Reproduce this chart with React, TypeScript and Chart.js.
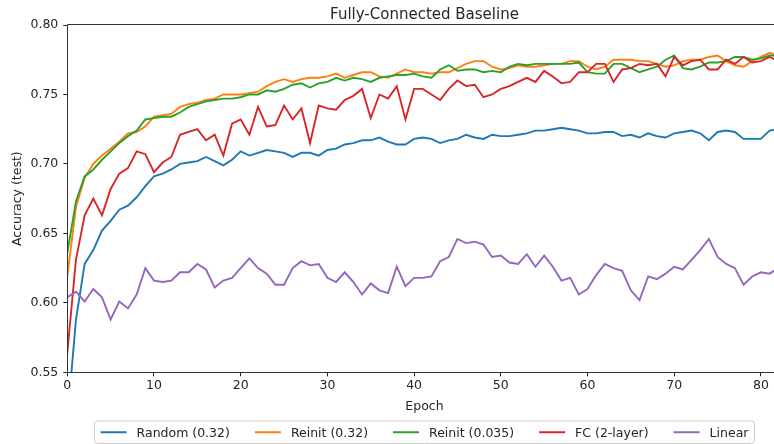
import React, { useEffect, useRef } from "react";
import { Chart, registerables } from "chart.js";

Chart.register(...registerables);

// ---- Data (epoch index = array position) ----
const seriesLabels = ["Random (0.32)", "Reinit (0.32)", "Reinit (0.035)", "FC (2-layer)", "Linear"];
const seriesColors = ["#1f77b4", "#ff7f0e", "#2ca02c", "#d62728", "#9467bd"];

const randomAcc = [
  0.515, 0.588, 0.628, 0.638, 0.652, 0.659, 0.667, 0.670, 0.676, 0.684, 0.691, 0.693, 0.696, 0.700, 0.701, 0.702, 0.705, 0.702, 0.699, 0.703, 0.709, 0.706,
  0.708, 0.710, 0.709, 0.708, 0.705, 0.708, 0.708, 0.706, 0.710, 0.711, 0.714, 0.715, 0.717, 0.717, 0.719, 0.716, 0.714, 0.714, 0.718, 0.719,
  0.718, 0.715, 0.717, 0.718, 0.721, 0.719, 0.718, 0.721, 0.720, 0.720, 0.721, 0.722, 0.724, 0.724, 0.725, 0.726, 0.725, 0.724, 0.722, 0.722, 0.723,
  0.723, 0.720, 0.721, 0.719, 0.722, 0.720, 0.719, 0.722, 0.723, 0.724, 0.722, 0.717, 0.723, 0.724, 0.723, 0.718, 0.718, 0.718, 0.724, 0.725,
];
const reinit032Acc = [
  0.619, 0.669, 0.690, 0.700, 0.706, 0.711, 0.716, 0.722, 0.723, 0.727, 0.734, 0.735, 0.736, 0.741, 0.743, 0.744, 0.746, 0.747, 0.750, 0.750, 0.750, 0.751,
  0.752, 0.756, 0.759, 0.761, 0.759, 0.761, 0.762, 0.762, 0.763, 0.765, 0.762, 0.764, 0.766, 0.766, 0.763, 0.762, 0.765, 0.768, 0.766, 0.766,
  0.765, 0.766, 0.766, 0.769, 0.772, 0.774, 0.774, 0.770, 0.768, 0.769, 0.771, 0.770, 0.770, 0.771, 0.772, 0.772, 0.774, 0.774, 0.770, 0.768, 0.770,
  0.775, 0.775, 0.775, 0.774, 0.774, 0.772, 0.770, 0.771, 0.774, 0.775, 0.775, 0.777, 0.778, 0.774, 0.771, 0.770, 0.774, 0.777, 0.780, 0.778,
];
const reinit0035Acc = [
  0.636, 0.673, 0.691, 0.696, 0.703, 0.709, 0.715, 0.720, 0.724, 0.732, 0.733, 0.734, 0.734, 0.737, 0.741, 0.743, 0.745, 0.746, 0.747, 0.747, 0.748, 0.750,
  0.750, 0.753, 0.752, 0.754, 0.757, 0.758, 0.755, 0.758, 0.759, 0.762, 0.760, 0.762, 0.761, 0.759, 0.762, 0.763, 0.764, 0.764, 0.765, 0.763,
  0.762, 0.768, 0.771, 0.767, 0.768, 0.768, 0.766, 0.767, 0.766, 0.770, 0.772, 0.771, 0.772, 0.772, 0.772, 0.772, 0.772, 0.773, 0.766, 0.765, 0.765,
  0.772, 0.772, 0.769, 0.766, 0.768, 0.770, 0.775, 0.778, 0.769, 0.768, 0.770, 0.773, 0.773, 0.774, 0.777, 0.777, 0.775, 0.776, 0.778, 0.778,
];
const fc2LayerAcc = [
  0.564, 0.631, 0.663, 0.675, 0.663, 0.682, 0.693, 0.697, 0.709, 0.707, 0.694, 0.701, 0.705, 0.721, 0.723, 0.725, 0.717, 0.721, 0.706, 0.729, 0.732, 0.721,
  0.741, 0.727, 0.728, 0.742, 0.732, 0.740, 0.715, 0.742, 0.740, 0.739, 0.746, 0.749, 0.754, 0.733, 0.750, 0.747, 0.756, 0.732, 0.754, 0.754,
  0.750, 0.746, 0.754, 0.760, 0.756, 0.757, 0.748, 0.750, 0.754, 0.756, 0.759, 0.762, 0.759, 0.767, 0.763, 0.758, 0.759, 0.766, 0.766, 0.772, 0.772,
  0.759, 0.768, 0.769, 0.772, 0.771, 0.772, 0.763, 0.777, 0.771, 0.774, 0.775, 0.768, 0.768, 0.775, 0.772, 0.777, 0.773, 0.774, 0.777, 0.774,
];
const linearAcc = [
  0.604, 0.608, 0.601, 0.610, 0.604, 0.588, 0.601, 0.596, 0.606, 0.625, 0.616, 0.615, 0.616, 0.622, 0.622, 0.628, 0.624, 0.611, 0.616, 0.618, 0.625, 0.632,
  0.625, 0.621, 0.613, 0.613, 0.625, 0.630, 0.627, 0.628, 0.618, 0.615, 0.622, 0.615, 0.606, 0.614, 0.609, 0.607, 0.626, 0.612, 0.618, 0.618,
  0.619, 0.630, 0.633, 0.646, 0.643, 0.644, 0.642, 0.633, 0.634, 0.629, 0.628, 0.635, 0.626, 0.634, 0.626, 0.616, 0.618, 0.606, 0.610, 0.620, 0.628,
  0.625, 0.623, 0.609, 0.602, 0.619, 0.617, 0.621, 0.626, 0.624, 0.631, 0.638, 0.646, 0.633, 0.628, 0.625, 0.613, 0.619, 0.622, 0.621, 0.625,
];
const seriesValues = [randomAcc, reinit032Acc, reinit0035Acc, fc2LayerAcc, linearAcc];

const chartTitle = "Fully-Connected Baseline";
const xTitle = "Epoch";
const yTitle = "Accuracy (test)";
const xRange = [0, 82.4];
const yRange = [0.55, 0.8];
const xStep = 10;
const yStep = 0.05;

const FONT = '"DejaVu Sans", sans-serif';
const TEXT = "#262626";

const decor = {
  id: "decor",
  afterDraw(chart: any) {
    const ctx = chart.ctx as CanvasRenderingContext2D;
    const ca = chart.chartArea;
    ctx.save();
    // spines
    ctx.strokeStyle = "#333";
    ctx.lineWidth = 1;
    const L = Math.round(ca.left) + 0.5;
    const T = Math.round(ca.top) - 0.5;
    const B = Math.round(ca.bottom) + 0.5;
    const R = Math.round(ca.right) + 0.5;
    ctx.beginPath();
    ctx.moveTo(L, T);
    ctx.lineTo(R, T);
    ctx.lineTo(R, B);
    ctx.lineTo(L, B);
    ctx.closePath();
    ctx.stroke();

    const cx = (ca.left + ca.right) / 2;
    ctx.fillStyle = TEXT;
    // title
    ctx.font = `15px ${FONT}`;
    ctx.textAlign = "center";
    ctx.textBaseline = "alphabetic";
    ctx.fillText(chartTitle, cx, 18.5);
    // x title
    ctx.font = `12.5px ${FONT}`;
    ctx.fillText(xTitle, cx, 410);
    // y title
    ctx.save();
    ctx.translate(21, (ca.top + ca.bottom) / 2);
    ctx.rotate(-Math.PI / 2);
    ctx.fillText(yTitle, 0, 0);
    ctx.restore();

    // legend
    ctx.font = `12.5px ${FONT}`;
    const handle = 26, gap = 10, col = 25, pad = 6;
    const widths = seriesLabels.map((t) => ctx.measureText(t).width);
    const total = 2 * pad + widths.reduce((a, w) => a + w + handle + gap, 0) + col * (seriesLabels.length - 1);
    const boxL = cx - total / 2;
    const boxT = 421;
    const boxH = 22.5;
    const r = 3;
    ctx.beginPath();
    ctx.moveTo(boxL + r, boxT);
    ctx.lineTo(boxL + total - r, boxT);
    ctx.arcTo(boxL + total, boxT, boxL + total, boxT + r, r);
    ctx.lineTo(boxL + total, boxT + boxH - r);
    ctx.arcTo(boxL + total, boxT + boxH, boxL + total - r, boxT + boxH, r);
    ctx.lineTo(boxL + r, boxT + boxH);
    ctx.arcTo(boxL, boxT + boxH, boxL, boxT + boxH - r, r);
    ctx.lineTo(boxL, boxT + r);
    ctx.arcTo(boxL, boxT, boxL + r, boxT, r);
    ctx.closePath();
    ctx.fillStyle = "rgba(255,255,255,0.8)";
    ctx.fill();
    ctx.strokeStyle = "#cccccc";
    ctx.lineWidth = 1;
    ctx.stroke();
    let x = boxL + pad;
    const cy = boxT + boxH / 2;
    ctx.textAlign = "left";
    seriesLabels.forEach((t, i) => {
      ctx.strokeStyle = seriesColors[i];
      ctx.lineWidth = 2;
      ctx.beginPath();
      ctx.moveTo(x, cy);
      ctx.lineTo(x + handle, cy);
      ctx.stroke();
      ctx.fillStyle = TEXT;
      ctx.fillText(t, x + handle + gap, cy + 4.5);
      x += handle + gap + widths[i] + col;
    });
    ctx.restore();
  },
};

export default function App() {
  const ref = useRef<HTMLCanvasElement | null>(null);
  useEffect(() => {
    if (!ref.current) return;
    const tickFont = { family: FONT, size: 12.5 };
    const chart = new Chart(ref.current, {
      type: "line",
      data: {
        datasets: seriesValues.map((vals, i) => ({
          label: seriesLabels[i],
          data: vals.map((y, x) => ({ x, y })),
          borderColor: seriesColors[i],
          backgroundColor: seriesColors[i],
          borderWidth: 1.9,
          pointRadius: 0,
          tension: 0,
          fill: false,
          order: seriesValues.length - i,
          clip: 0,
        })),
      },
      options: {
        responsive: false,
        animation: false,
        devicePixelRatio: 1,
        layout: { padding: { left: 0, right: 18.3, top: 25, bottom: 0 } },
        plugins: {
          legend: { display: false },
          title: { display: false },
          tooltip: { enabled: false },
        },
        scales: {
          x: {
            type: "linear",
            min: xRange[0],
            max: xRange[1],
            afterFit: (s: any) => {
              s.height = 71.7;
            },
            ticks: {
              stepSize: xStep,
              includeBounds: false,
              autoSkip: false,
              maxRotation: 0,
              font: tickFont,
              color: TEXT,
              padding: 2,
              callback: (v: any) => String(v),
            },
            grid: { drawOnChartArea: false, drawTicks: true, tickLength: 4, color: "#222", lineWidth: 1 },
            border: { display: false },
          },
          y: {
            type: "linear",
            min: yRange[0],
            max: yRange[1],
            afterFit: (s: any) => {
              s.width = 67.3;
            },
            ticks: {
              stepSize: yStep,
              font: tickFont,
              color: TEXT,
              padding: 5,
              callback: (v: any) => Number(v).toFixed(2),
            },
            grid: { drawOnChartArea: false, drawTicks: true, tickLength: 4, color: "#222", lineWidth: 1 },
            border: { display: false },
          },
        },
      } as any,
      plugins: [decor],
    });
    return () => chart.destroy();
  }, []);
  return (
    <div style={{ position: "fixed", left: 0, top: 0, width: 774, height: 444, overflow: "hidden", background: "#fff" }}>
      <canvas ref={ref} width={800} height={444} style={{ display: "block", width: 800, height: 444 }} />
    </div>
  );
}
